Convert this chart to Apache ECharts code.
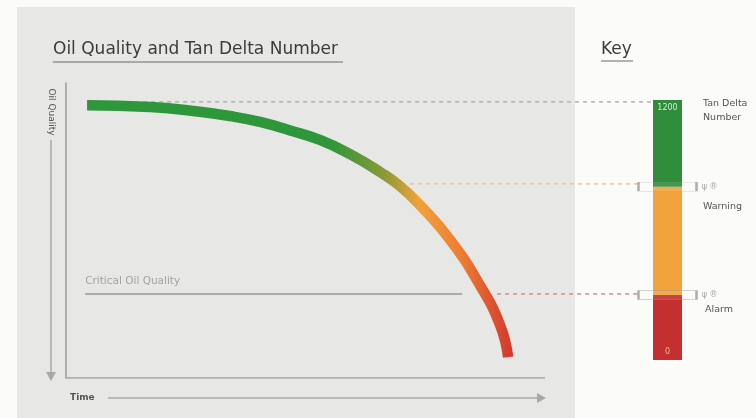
<!DOCTYPE html>
<html><head><meta charset="utf-8">
<script src="https://cdn.jsdelivr.net/npm/echarts/dist/echarts.min.js"></script>
<style>html,body{margin:0;padding:0;background:#fbfbf9}#c{width:756px;height:418px}</style>
</head><body><div id="c"></div>
<script>
// Oil quality curve (time %, quality %)
const curveTime    = [4.4, 17.5, 26.5, 34.2, 40.5, 46.8, 53.0, 59.3, 65.6, 69.7, 73.9, 80.2, 86.4, 90.6, 92.3];
const curveQuality = [92.5, 91.9, 90.5, 88.8, 86.8, 83.9, 80.7, 75.9, 69.8, 65.1, 58.6, 46.8, 31.5, 18.0, 7.1];
// Time axis extent (drawn part of the axis)
const timeAxisEnd = 100;
// Key: Tan Delta Number bands (bottom to top)
const keyCategory = ['key'];
const keyBandNames = ['Alarm', 'Warning', 'Normal'];
const keyBandSizes = [300, 500, 400];
const keyMax = 1200;
const keyThresholds = [800, 300];
const keyTopLabel = '1200';
const keyBottomLabel = '0';
// Guide lines from curve to key (quality level, start time, end time)
const guideQuality = [93.6, 65.8, 28.5];
const guideStart = [4.4, 71.8, 90.0];
const guideEnd = [122.3, 119.8, 119.8];
// Critical oil quality arrow
const criticalQuality = 28.5;
const criticalStart = 4.0;
const criticalEnd = 82.7;

const FONT = 'DejaVu Sans';
const guideColors = ['#b3b3a8', '#e8c58f', '#e38686'];
const bandColors = ['#c3302f', '#f2a33e', '#2f8d3b'];

const chart = echarts.init(document.getElementById('c'), null, {renderer: 'canvas'});

const series = [];
guideQuality.forEach((q, i) => {
  series.push({
    type: 'line', xAxisIndex: 0, yAxisIndex: 0, silent: true,
    symbol: 'none', z: 1,
    data: [[guideStart[i], q], [guideEnd[i], q]],
    lineStyle: {color: guideColors[i], width: 1.5, type: [4, 4]}
  });
});
series.push({
  type: 'line', xAxisIndex: 0, yAxisIndex: 0, smooth: 0.5, symbol: 'none', z: 5,
  data: curveTime.map((t, i) => [t, curveQuality[i]]),
  lineStyle: {
    width: 10.5, cap: 'butt',
    color: new echarts.graphic.LinearGradient(0, 0, 1, 0, [
      {offset: 0, color: '#2e973b'},
      {offset: 0.58, color: '#2f963a'},
      {offset: 0.70, color: '#8a9a36'},
      {offset: 0.78, color: '#f0a23a'},
      {offset: 0.88, color: '#ec7d33'},
      {offset: 1, color: '#d2362e'}
    ])
  },
  markLine: {
    silent: true, symbol: ['none', 'arrow'], symbolSize: [0, 11],
    lineStyle: {color: '#ababab', width: 2, type: 'solid'},
    label: {show: true, position: 'insideStartTop', formatter: 'Critical Oil Quality',
      color: '#a3a3a3', fontSize: 10.5, fontFamily: FONT, distance: [0, 7]},
    data: [[{coord: [criticalStart, criticalQuality]}, {coord: [criticalEnd, criticalQuality]}]]
  }
});
// visible time axis line (0 .. timeAxisEnd)
series.push({
  type: 'line', xAxisIndex: 0, yAxisIndex: 0, silent: true, symbol: 'none', z: 2,
  data: [[0, 0], [timeAxisEnd, 0]],
  lineStyle: {color: '#9c9c9c', width: 1.5}
});
keyBandSizes.forEach((v, i) => {
  const s = {
    type: 'bar', name: keyBandNames[i], xAxisIndex: 1, yAxisIndex: 1, stack: 'k',
    barWidth: '100%', data: [v], itemStyle: {color: bandColors[i]}, silent: true, z: 2
  };
  if (i === keyBandSizes.length - 1) {
    s.label = {show: true, position: 'insideTop', formatter: keyTopLabel, color: '#d6ecd6', fontSize: 8, fontFamily: FONT, distance: 4};
  }
  if (i === 0) {
    s.label = {show: true, position: 'insideBottom', formatter: keyBottomLabel, color: '#eeb2aa', fontSize: 8, fontFamily: FONT, distance: 4};
  }
  series.push(s);
});
series.push({
  type: 'scatter', xAxisIndex: 1, yAxisIndex: 1, silent: true, z: 6,
  data: keyThresholds.map(v => [keyCategory[0], v]),
  symbol: 'rect', symbolSize: [58, 9],
  itemStyle: {color: 'rgba(255,255,255,0.12)', borderColor: '#9a9a9a', borderWidth: 1},
  label: {show: true, position: 'right', formatter: 'ψ ®', color: '#909090', fontSize: 8, fontFamily: FONT, distance: 4}
});

function arrowHead(x, y, dir) {
  const s = 5;
  const pts = dir === 'right' ? [[x, y], [x - 9, y - s], [x - 9, y + s]] : [[x, y], [x - s, y - 9], [x + s, y - 9]];
  return {type: 'polygon', z: 100, shape: {points: pts}, style: {fill: '#a8a8a8'}};
}

const graphics = [
  {type: 'rect', z: -10, shape: {x: 17, y: 7, width: 558, height: 411}, style: {fill: '#e7e7e6'}},
  {type: 'text', z: 100, x: 53, y: 50, style: {text: 'Oil Quality and Tan Delta Number', font: '17px "' + FONT + '"', fill: '#3c3c3c', textVerticalAlign: 'middle'}},
  {type: 'line', z: 100, shape: {x1: 53, y1: 62, x2: 343, y2: 62}, style: {stroke: '#6a6a6a', lineWidth: 1}},
  {type: 'text', z: 100, x: 601, y: 50, style: {text: 'Key', font: '17px "' + FONT + '"', fill: '#3c3c3c', textVerticalAlign: 'middle'}},
  {type: 'line', z: 100, shape: {x1: 601, y1: 61, x2: 633, y2: 61}, style: {stroke: '#6a6a6a', lineWidth: 1}},
  {type: 'text', z: 100, x: 51, y: 112, rotation: -Math.PI / 2, style: {text: 'Oil Quality', font: '9px "' + FONT + '"', fill: '#555', textAlign: 'center', textVerticalAlign: 'middle'}},
  {type: 'line', z: 100, shape: {x1: 51, y1: 140, x2: 51, y2: 372}, style: {stroke: '#aaaaaa', lineWidth: 1.5}},
  arrowHead(51, 381, 'down'),
  {type: 'text', z: 100, x: 70, y: 398, style: {text: 'Time', font: 'bold 9px "' + FONT + '"', fill: '#555', textVerticalAlign: 'middle'}},
  {type: 'line', z: 100, shape: {x1: 108, y1: 398, x2: 538, y2: 398}, style: {stroke: '#aaaaaa', lineWidth: 1.5}},
  arrowHead(546, 398, 'right'),
  {type: 'text', z: 100, x: 703, y: 111, style: {text: 'Tan Delta\nNumber', font: '9.5px "' + FONT + '"', fill: '#555', textVerticalAlign: 'middle', lineHeight: 14}},
  {type: 'text', z: 100, x: 703, y: 207, style: {text: 'Warning', font: '9.5px "' + FONT + '"', fill: '#555', textVerticalAlign: 'middle'}},
  {type: 'text', z: 100, x: 705, y: 310, style: {text: 'Alarm', font: '9.5px "' + FONT + '"', fill: '#555', textVerticalAlign: 'middle'}}
];

// main grid: time 0..100 spans x 66..545; extended to 130 to reach the key
chart.setOption({
  backgroundColor: '#fbfbf9',
  animation: false,
  graphic: graphics,
  grid: [
    {left: 66, right: 67.3, top: 83, bottom: 40},
    {left: 653, width: 29, top: 100, height: 260}
  ],
  xAxis: [
    {type: 'value', gridIndex: 0, min: 0, max: 130,
      axisLine: {show: false}, axisTick: {show: false}, axisLabel: {show: false}, splitLine: {show: false}},
    {type: 'category', gridIndex: 1, data: keyCategory, show: false}
  ],
  yAxis: [
    {type: 'value', gridIndex: 0, min: 0, max: 100,
      axisLine: {show: true, onZero: false, lineStyle: {color: '#9c9c9c', width: 1.5}},
      axisTick: {show: false}, axisLabel: {show: false}, splitLine: {show: false}},
    {type: 'value', gridIndex: 1, min: 0, max: keyMax, show: false}
  ],
  series: series
});
</script></body></html>
